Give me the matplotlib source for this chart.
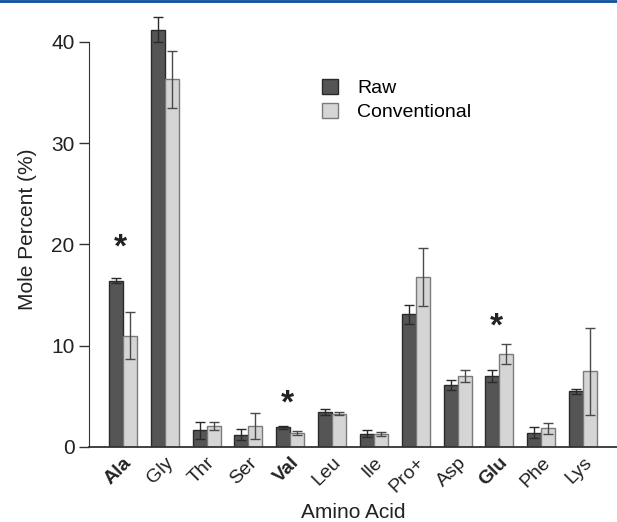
import numpy as np
import matplotlib
matplotlib.use("Agg")
import matplotlib.pyplot as plt
from matplotlib.lines import Line2D

plt.rcParams['font.family'] = ['Liberation Sans', 'DejaVu Sans']

# data
amino_acids = ['Ala', 'Gly', 'Thr', 'Ser', 'Val', 'Leu', 'Ile', 'Pro+',
               'Asp', 'Glu', 'Phe', 'Lys']
bold_labels = ['Ala', 'Val', 'Glu']
raw_mean = [16.4, 41.2, 1.65, 1.2, 1.95, 3.45, 1.3, 13.1, 6.1, 7.05, 1.4, 5.5]
raw_err = [0.25, 1.25, 0.85, 0.55, 0.15, 0.3, 0.33, 0.95, 0.5, 0.6, 0.53, 0.23]
conv_mean = [11.0, 36.3, 2.1, 2.1, 1.4, 3.3, 1.25, 16.8, 7.05, 9.15, 1.85, 7.5]
conv_err = [2.3, 2.8, 0.4, 1.3, 0.2, 0.15, 0.2, 2.9, 0.6, 1.0, 0.55, 4.3]
# significance markers (group index, height)
star_groups = [0, 4, 9]
star_heights = [19.6, 4.2, 11.8]

fig = plt.figure(figsize=(6.17, 5.22), dpi=100)
ax = fig.add_axes([89 / 617, 75 / 522, 528 / 617, 435.4 / 522])

x = np.arange(len(amino_acids))
w = 0.335

ax.bar(x - w / 2, raw_mean, w, yerr=raw_err, color='#555555',
       edgecolor='#2a2a2a', linewidth=1.0, label='Raw',
       error_kw=dict(ecolor='#2a2a2a', elinewidth=1.0, capsize=3.5, capthick=1.0))
ax.bar(x + w / 2, conv_mean, w, yerr=conv_err, color='#d5d5d5',
       edgecolor='#7a7a7a', linewidth=1.0, label='Conventional',
       error_kw=dict(ecolor='#4a4a4a', elinewidth=1.0, capsize=3.5, capthick=1.0))

for g, h in zip(star_groups, star_heights):
    ax.text(g - 0.07, h, '*', ha='center', va='center', fontsize=24,
            fontweight='bold', color='#222222')

ax.set_xlim(-0.81, len(amino_acids) - 1 + 0.81)
ax.set_ylim(0, 43)
ax.set_yticks([0, 10, 20, 30, 40])
ax.spines['top'].set_visible(False)
ax.spines['right'].set_visible(False)
ax.spines['left'].set_bounds(0, 40)
ax.spines['left'].set_color('#333333')
ax.spines['bottom'].set_color('#333333')
ax.spines['bottom'].set_linewidth(1.3)
ax.tick_params(axis='y', labelsize=15, length=7, width=1, color='#333333',
               labelcolor='#222222')
ax.tick_params(axis='x', length=0, pad=5)

ax.set_xticks(x)
ax.set_xticklabels(amino_acids, rotation=45, ha='right',
                   rotation_mode='anchor', fontsize=14, color='#222222')
for lbl in ax.get_xticklabels():
    if lbl.get_text() in bold_labels:
        lbl.set_fontweight('bold')

ax.set_xlabel('Amino Acid', fontsize=15, color='#222222', labelpad=5)
ax.set_ylabel('Mole Percent (%)', fontsize=15, color='#222222', labelpad=10)

ax.legend(loc='upper left', bbox_to_anchor=(322 / 617, 1 - 79 / 522),
          bbox_transform=fig.transFigure, frameon=False, fontsize=14,
          handlelength=0.8, handleheight=0.8, handletextpad=1.0,
          labelspacing=0.3, borderpad=0, borderaxespad=0)

# thin blue rule at the very top of the figure
fig.add_artist(Line2D([0, 1], [1 - 1.2 / 522, 1 - 1.2 / 522],
                      transform=fig.transFigure, color='#0b4f9e', linewidth=2))

fig.savefig('out.png', dpi=100)
